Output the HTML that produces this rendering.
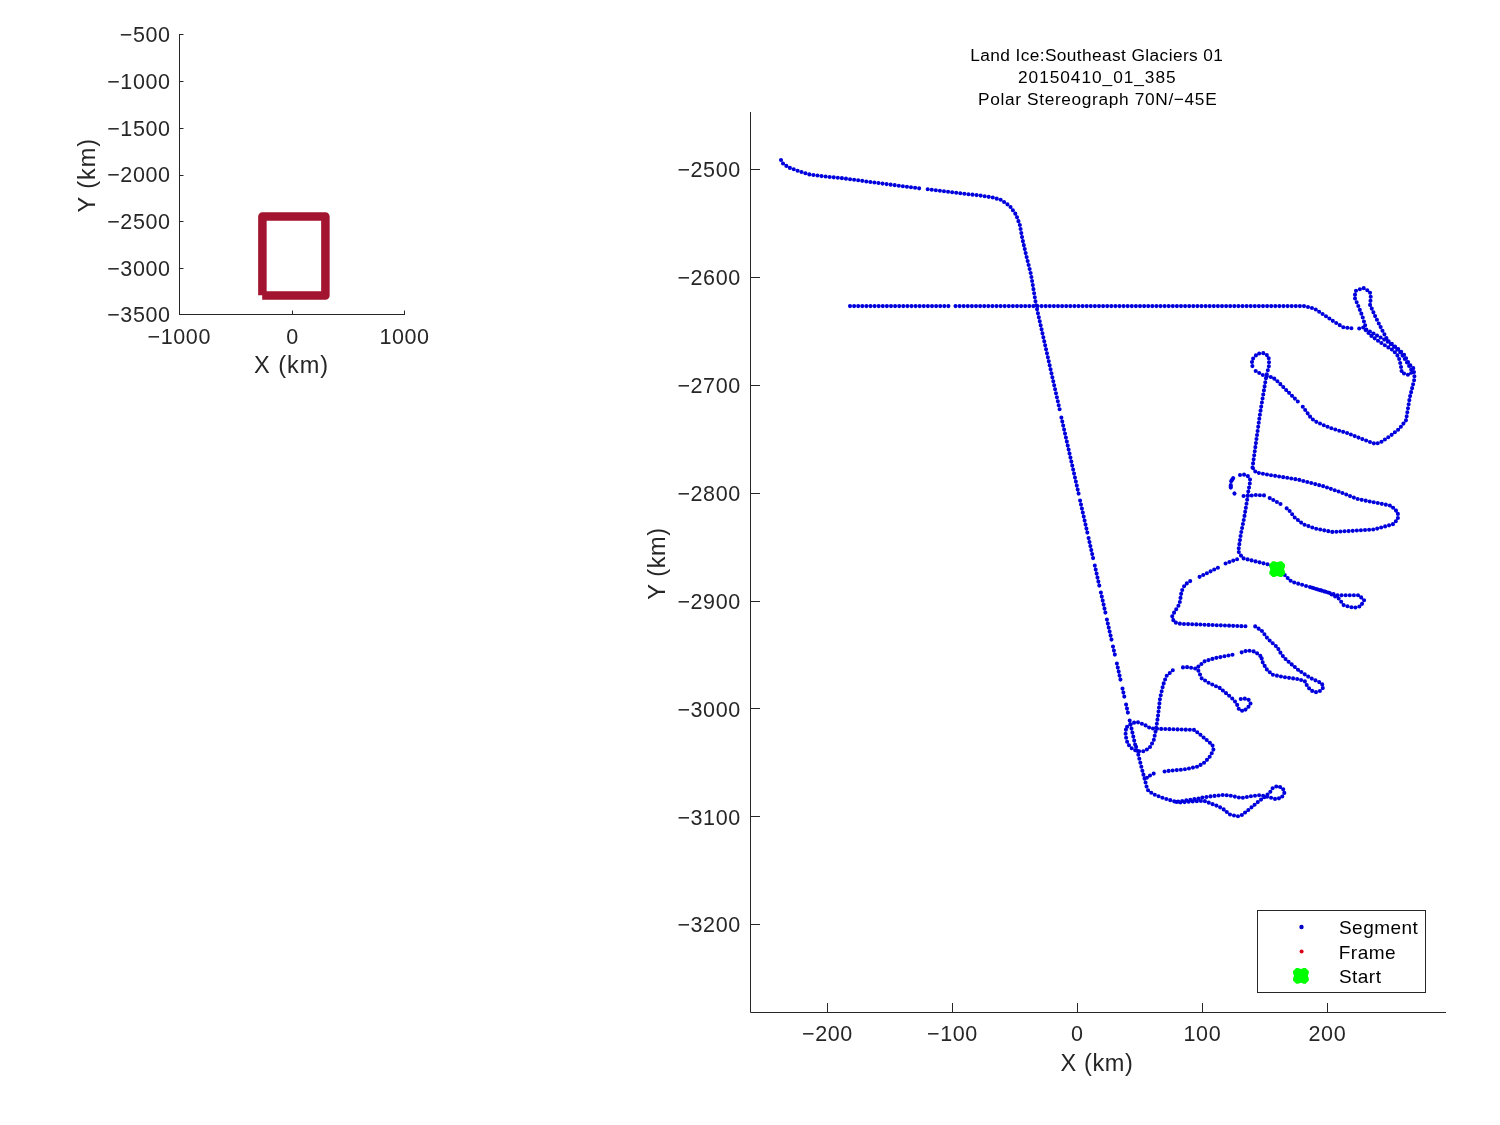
<!DOCTYPE html>
<html><head><meta charset="utf-8"><style>
html,body{margin:0;padding:0;background:#fff;}
body{width:1500px;height:1125px;overflow:hidden;position:relative;}
svg{position:absolute;left:0;top:0;}
text{font-family:"Liberation Sans",sans-serif;fill:#262626;}
svg text{filter:grayscale(1);}
</style></head><body>
<svg width="1500" height="1125" viewBox="0 0 1500 1125">
<rect x="0" y="0" width="1500" height="1125" fill="#fff"/>

<path d="M179.5,34 L179.5,314.5 L404.5,314.5" fill="none" stroke="#262626" stroke-width="1"/>
<path d="M179,34.5 L183.5,34.5" stroke="#262626" stroke-width="1"/>
<path d="M179,81.5 L183.5,81.5" stroke="#262626" stroke-width="1"/>
<path d="M179,128.5 L183.5,128.5" stroke="#262626" stroke-width="1"/>
<path d="M179,175.5 L183.5,175.5" stroke="#262626" stroke-width="1"/>
<path d="M179,221.5 L183.5,221.5" stroke="#262626" stroke-width="1"/>
<path d="M179,268.5 L183.5,268.5" stroke="#262626" stroke-width="1"/>
<path d="M179,314.5 L183.5,314.5" stroke="#262626" stroke-width="1"/>
<path d="M179.5,315 L179.5,310.5" stroke="#262626" stroke-width="1"/>
<path d="M292.5,315 L292.5,310.5" stroke="#262626" stroke-width="1"/>
<path d="M404.5,315 L404.5,310.5" stroke="#262626" stroke-width="1"/>
<path d="M262.2,295.4 L325.4,295.4 L325.4,216.5 L262.4,216.5 L262.4,295.3" fill="none" stroke="#A2142F" stroke-width="8.5" stroke-linejoin="round" stroke-linecap="butt"/>
<text x="170.6" y="42.2" font-size="21.5" letter-spacing="0.6" text-anchor="end">−500</text>
<text x="170.6" y="88.9" font-size="21.5" letter-spacing="0.6" text-anchor="end">−1000</text>
<text x="170.6" y="135.7" font-size="21.5" letter-spacing="0.6" text-anchor="end">−1500</text>
<text x="170.6" y="182.4" font-size="21.5" letter-spacing="0.6" text-anchor="end">−2000</text>
<text x="170.6" y="229.1" font-size="21.5" letter-spacing="0.6" text-anchor="end">−2500</text>
<text x="170.6" y="275.9" font-size="21.5" letter-spacing="0.6" text-anchor="end">−3000</text>
<text x="170.6" y="322.2" font-size="21.5" letter-spacing="0.6" text-anchor="end">−3500</text>
<text x="179.3" y="343.8" font-size="21.5" letter-spacing="0.6" text-anchor="middle">−1000</text>
<text x="292.5" y="343.8" font-size="21.5" letter-spacing="0.6" text-anchor="middle">0</text>
<text x="404.5" y="343.8" font-size="21.5" letter-spacing="0.6" text-anchor="middle">1000</text>
<text x="291.6" y="373.3" font-size="23.5" letter-spacing="1.0" text-anchor="middle">X (km)</text>
<text transform="translate(94.7,175.2) rotate(-90)" x="0" y="0" font-size="23.5" letter-spacing="1.0" text-anchor="middle">Y (km)</text>
<path d="M750.5,112 L750.5,1012.5 L1446,1012.5" fill="none" stroke="#262626" stroke-width="1"/>
<path d="M750,169.5 L760,169.5" stroke="#262626" stroke-width="1"/>
<text x="740.8" y="177.3" font-size="21.5" letter-spacing="0.6" text-anchor="end">−2500</text>
<path d="M750,277.5 L760,277.5" stroke="#262626" stroke-width="1"/>
<text x="740.8" y="285.2" font-size="21.5" letter-spacing="0.6" text-anchor="end">−2600</text>
<path d="M750,385.5 L760,385.5" stroke="#262626" stroke-width="1"/>
<text x="740.8" y="393.0" font-size="21.5" letter-spacing="0.6" text-anchor="end">−2700</text>
<path d="M750,493.5 L760,493.5" stroke="#262626" stroke-width="1"/>
<text x="740.8" y="500.9" font-size="21.5" letter-spacing="0.6" text-anchor="end">−2800</text>
<path d="M750,601.5 L760,601.5" stroke="#262626" stroke-width="1"/>
<text x="740.8" y="608.7" font-size="21.5" letter-spacing="0.6" text-anchor="end">−2900</text>
<path d="M750,708.5 L760,708.5" stroke="#262626" stroke-width="1"/>
<text x="740.8" y="716.6" font-size="21.5" letter-spacing="0.6" text-anchor="end">−3000</text>
<path d="M750,816.5 L760,816.5" stroke="#262626" stroke-width="1"/>
<text x="740.8" y="824.5" font-size="21.5" letter-spacing="0.6" text-anchor="end">−3100</text>
<path d="M750,924.5 L760,924.5" stroke="#262626" stroke-width="1"/>
<text x="740.8" y="932.3" font-size="21.5" letter-spacing="0.6" text-anchor="end">−3200</text>
<path d="M827.5,1012 L827.5,1003" stroke="#262626" stroke-width="1"/>
<text x="827.4" y="1040.8" font-size="21.5" letter-spacing="0.6" text-anchor="middle">−200</text>
<path d="M952.5,1012 L952.5,1003" stroke="#262626" stroke-width="1"/>
<text x="952.4" y="1040.8" font-size="21.5" letter-spacing="0.6" text-anchor="middle">−100</text>
<path d="M1077.5,1012 L1077.5,1003" stroke="#262626" stroke-width="1"/>
<text x="1077.4" y="1040.8" font-size="21.5" letter-spacing="0.6" text-anchor="middle">0</text>
<path d="M1202.5,1012 L1202.5,1003" stroke="#262626" stroke-width="1"/>
<text x="1202.4" y="1040.8" font-size="21.5" letter-spacing="0.6" text-anchor="middle">100</text>
<path d="M1327.5,1012 L1327.5,1003" stroke="#262626" stroke-width="1"/>
<text x="1327.4" y="1040.8" font-size="21.5" letter-spacing="0.6" text-anchor="middle">200</text>
<text x="1097" y="1070.8" font-size="23.5" letter-spacing="0.6" text-anchor="middle">X (km)</text>
<text transform="translate(664.8,563.6) rotate(-90)" x="0" y="0" font-size="23.5" letter-spacing="0.6" text-anchor="middle">Y (km)</text>
<text x="970.2" y="60.7" font-size="17.3" letter-spacing="0.4" style="fill:#000">Land Ice:Southeast Glaciers 01</text>
<text x="1018" y="82.9" font-size="17.3" letter-spacing="0.96" style="fill:#000">20150410_01_385</text>
<text x="978" y="104.6" font-size="17.3" letter-spacing="0.65" style="fill:#000">Polar Stereograph 70N/−45E</text>
<g fill="none" stroke="#0000DC" stroke-width="4.1" stroke-linecap="round" stroke-linejoin="round" stroke-dasharray="0 4.1">
<path d="M781.0,160.0 L783.2,163.9 L789.1,167.6 L799.3,171.3 L808.1,174.2 L821.3,176.1 L843.3,178.3 L872.7,182.3 L919.6,188.4"/>
<path d="M927.7,189.3 L960.7,193.3 L980.0,195.5 L992.4,197.4 L1001.1,199.9 L1009.9,206.1 L1016.1,214.8 L1019.8,224.8 L1022.3,238.5 L1026.0,254.6 L1031.0,274.5 L1036.2,305.6 L1060.3,412.4"/>
<path d="M1061.4,417.6 L1079.0,495.4"/>
<path d="M1080.1,500.6 L1087.4,532.9"/>
<path d="M1088.6,538.1 L1093.6,560.4"/>
<path d="M1094.8,565.6 L1099.7,587.4"/>
<path d="M1100.9,592.6 L1105.8,614.4"/>
<path d="M1106.9,619.6 L1111.9,641.4"/>
<path d="M1113.0,646.6 L1115.7,658.4"/>
<path d="M1116.9,663.6 L1121.3,683.4"/>
<path d="M1122.5,688.6 L1124.9,699.4"/>
<path d="M1126.1,704.6 L1128.5,715.4"/>
<path d="M1129.7,720.6 L1135.2,745.0"/>
<path d="M850.0,306.1 L949.0,306.1"/>
<path d="M955.5,306.1 L1304.7,306.1 L1314.8,308.8 L1325.0,315.6 L1335.1,322.4 L1343.6,327.4 L1352.0,328.3"/>
<path d="M1359.2,328.5 L1365.6,326.9 L1362.4,316.3 L1358.1,305.6 L1354.4,297.1 L1356.0,290.7 L1363.5,288.0 L1369.9,291.7 L1370.9,298.1 L1369.9,304.5 L1375.2,316.3 L1382.7,331.2 L1388.0,340.8 L1398.6,349.3 L1404.0,354.6 L1409.3,364.2 L1413.6,368.5 L1414.6,378.1 L1412.5,386.6 L1409.8,397.3 L1406.0,420.3 L1399.3,428.8 L1390.8,435.5 L1380.7,442.3 L1375.6,444.0 L1363.8,439.7 L1346.9,433.0 L1330.0,427.9 L1316.5,422.0 L1311.5,418.6 L1302.2,406.0"/>
<path d="M1365.6,330.1 L1372.0,336.5 L1382.7,344.0 L1393.3,350.4 L1398.6,356.8 L1400.8,365.3 L1401.8,372.8 L1408.2,374.9 L1412.5,371.7 L1406.1,361.0 L1399.7,351.4 L1388.0,341.8 L1375.2,334.4 L1365.6,329.1"/>
<path d="M1297.8,401.5 L1287.8,391.6 L1277.7,381.5 L1272.6,377.2 L1272.3,377.3 L1266.1,376.1 L1262.3,374.8 L1254.9,370.5"/>
<path d="M1252.4,366.1 L1251.8,359.9 L1257.4,353.7 L1263.6,353.1 L1268.6,356.2 L1269.2,364.9 L1266.1,377.3 L1259.9,414.6 L1252.4,468.1 L1252.6,466.5 L1253.4,469.8 L1256.4,472.6 L1267.3,474.6 L1298.2,479.6 L1323.6,486.3 L1340.4,492.2 L1357.3,499.0 L1391.1,505.7 L1397.9,512.5 L1397.9,519.2 L1392.8,524.3 L1374.2,529.4 L1348.9,531.1 L1332.0,531.9 L1315.1,528.5 L1303.3,524.3 L1294.8,517.6 L1288.1,509.1 L1285.6,507.8"/>
<path d="M1280.5,504.0 L1269.5,498.0"/>
<path d="M1264.0,495.4 L1256.0,495.0 L1248.0,495.8 L1240.8,496.2"/>
<path d="M1240.0,475.0 L1244.0,474.6 L1248.0,476.2 L1250.4,480.2 L1249.6,484.6 L1248.8,489.0 L1248.0,493.0 L1247.6,497.3 L1244.2,517.6 L1240.8,534.4 L1238.3,551.3 L1242.5,558.1 L1256.0,561.5 L1269.5,564.8 L1277.1,569.1 L1284.7,575.0 L1291.5,581.7 L1311.7,587.6 L1337.1,595.2 L1348.9,595.2 L1359.0,595.2 L1364.1,600.3 L1360.7,606.2 L1354.0,607.9 L1343.8,605.4 L1338.8,598.6 L1328.6,592.7 L1311.7,587.6"/>
<path d="M1237.1,559.2 L1225.4,563.5"/>
<path d="M1217.9,567.7 L1198.7,577.3"/>
<path d="M1190.2,581.1 L1184.8,584.8 L1181.6,591.2 L1179.5,604.0 L1174.1,612.6 L1172.0,616.8 L1174.1,622.2 L1180.6,623.8 L1247.8,626.4"/>
<path d="M1255.2,626.4 L1261.7,630.7 L1268.1,639.2 L1277.3,647.3 L1281.3,654.2 L1286.3,659.9 L1299.1,670.6 L1309.8,677.7 L1321.9,683.4 L1323.3,687.6 L1319.7,691.2 L1315.5,692.3 L1311.2,690.5 L1307.6,686.9 L1304.8,681.2 L1298.4,679.1 L1284.9,677.3 L1272.8,674.8 L1267.1,669.9 L1262.8,662.8 L1261.3,656.9"/>
<path d="M1260.3,655.9 L1254.9,651.6 L1247.5,650.5 L1238.9,653.2"/>
<path d="M1232.5,654.8 L1215.5,658.0 L1204.8,661.2 L1199.5,665.5 L1196.3,668.7 L1187.7,667.1 L1179.7,667.6"/>
<path d="M1172.8,670.3 L1166.4,676.1 L1163.2,684.7 L1160.0,698.5 L1158.0,716.0 L1155.9,729.9 L1153.7,740.5 L1149.5,748.0 L1144.1,751.2 L1137.7,751.2 L1132.4,749.1 L1127.6,743.7 L1125.5,735.2 L1126.0,728.8"/>
<path d="M1198.4,670.8 L1201.6,678.3 L1208.0,682.5 L1219.7,687.9 L1226.1,693.2 L1233.6,699.6 L1236.8,703.9 L1238.9,709.2 L1243.2,711.3 L1247.5,708.1 L1250.7,703.9 L1248.5,699.6 L1244.3,698.5 L1236.8,699.6"/>
<path d="M1127.1,726.7 L1131.3,723.5 L1136.7,721.9 L1144.1,724.5 L1150.5,728.3 L1158.0,728.8 L1174.0,729.3 L1194.3,729.9 L1199.6,734.1 L1212.4,744.8 L1213.5,750.1 L1209.2,757.6 L1203.9,762.9 L1197.5,766.7 L1184.7,769.3 L1168.7,770.9 L1161.2,772.0"/>
<path d="M1153.7,773.6 L1147.3,776.8 L1145.2,781.1"/>
<path d="M1136.1,746.9 L1137.7,752.3 L1142.0,769.3 L1145.2,781.1 L1147.3,789.6 L1152.7,793.9 L1163.3,798.1 L1176.1,801.9 L1186.8,800.3 L1200.7,798.1 L1201.6,797.6 L1210.4,796.4 L1224.0,794.8 L1232.0,796.0 L1241.6,798.0 L1249.6,796.4 L1260.0,795.2 L1268.0,796.8 L1276.0,799.2 L1281.6,797.6 L1284.8,792.0 L1282.4,788.0 L1277.6,786.0 L1272.8,788.0 L1269.6,792.8 L1264.8,796.8 L1258.4,801.6 L1248.8,809.6 L1241.6,815.2 L1237.6,816.4 L1229.6,814.4 L1224.0,809.6 L1218.4,806.4 L1204.0,800.8 L1180.0,802.4 L1176.1,801.9"/>
</g>
<g fill="none" stroke="#0000DC" stroke-width="4.1" stroke-linecap="round"><path d="M1233.2,478.2 L1231.2,481.2"/><path d="M1230.8,485.0 L1230.8,487.6"/><path d="M1234.4,493.4 L1234.5,493.5"/></g>
<path d="M1272.5,561.3 L1274.4,561.3 L1277.2,562.3 L1280.0,561.3 L1281.9,561.3 L1285.1,564.5 L1285.1,566.4 L1284.1,569.2 L1285.1,572.0 L1285.1,573.9 L1281.9,577.1 L1280.0,577.1 L1277.2,576.1 L1274.4,577.1 L1272.5,577.1 L1269.3,573.9 L1269.3,572.0 L1270.3,569.2 L1269.3,566.4 L1269.3,564.5 Z" fill="#00FF00"/>
<rect x="1257.5" y="910.5" width="168" height="82" fill="#fff" stroke="#262626" stroke-width="1"/>
<circle cx="1301.5" cy="927" r="2.2" fill="#0000C8"/>
<circle cx="1301.6" cy="951.4" r="2.0" fill="#D80018"/>
<path d="M1296.2,967.9 L1298.1,967.9 L1300.9,968.9 L1303.7,967.9 L1305.6,967.9 L1308.8,971.1 L1308.8,973.0 L1307.8,975.8 L1308.8,978.6 L1308.8,980.5 L1305.6,983.7 L1303.7,983.7 L1300.9,982.7 L1298.1,983.7 L1296.2,983.7 L1293.0,980.5 L1293.0,978.6 L1294.0,975.8 L1293.0,973.0 L1293.0,971.1 Z" fill="#00FF00"/>
<text x="1339" y="933.8" font-size="19" letter-spacing="0.45" style="fill:#000">Segment</text>
<text x="1338.8" y="958.7" font-size="19" letter-spacing="0.45" style="fill:#000">Frame</text>
<text x="1339" y="982.9" font-size="19" letter-spacing="0.45" style="fill:#000">Start</text>
</svg></body></html>
